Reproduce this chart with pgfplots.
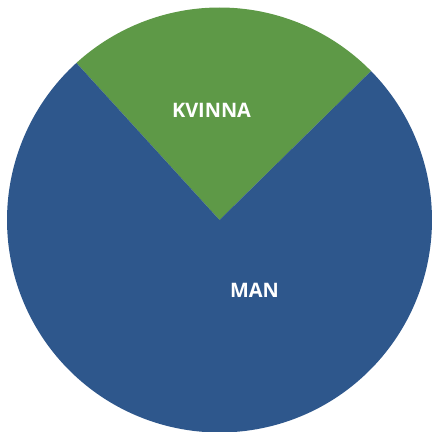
\documentclass[border=0pt]{standalone}
\usepackage{pgfplots}
\usepackage{pgfplotstable}
\pgfplotsset{compat=1.18}
\usepackage{fontspec}
\setmainfont{Open Sans}
\definecolor{kv}{RGB}{94,153,71}
\definecolor{mn}{RGB}{46,87,140}
\pgfplotstableread{
label value
KVINNA 24.4
MAN 75.6
}\piedata
\begin{document}
\begin{tikzpicture}
\useasboundingbox (0,0) rectangle (433bp,432bp);
\pgfplotstablegetelem{0}{value}\of\piedata \let\vk\pgfplotsretval
\pgfplotstablegetelem{1}{value}\of\piedata \let\vm\pgfplotsretval
\pgfmathsetmacro\aA{44.5}
\pgfmathsetmacro\aB{\aA+3.6*\vk}
\pgfmathsetmacro\aC{\aB+3.6*\vm}
\begin{axis}[at={(0,0)},anchor=south west,width=433bp,height=432bp,scale only axis,
  xmin=0,xmax=433,ymin=0,ymax=432,hide axis,clip=true]
\addplot[fill=kv,draw=none,domain=\aA:\aB,samples=90,variable=\t]
  ({219.5+212.5*cos(\t)},{212+212.5*sin(\t)}) -- (219.5,212) -- cycle;
\addplot[fill=mn,draw=none,domain=\aB:\aC,samples=200,variable=\t]
  ({219.5+212.5*cos(\t)},{212+212.5*sin(\t)}) -- (219.5,212) -- cycle;
\node[text=white,font=\bfseries\fontsize{20}{22}\selectfont] at (211.5,322) {KVINNA};
\node[text=white,font=\bfseries\fontsize{20}{22}\selectfont] at (254.5,142) {MAN};
\end{axis}
\end{tikzpicture}
\end{document}
